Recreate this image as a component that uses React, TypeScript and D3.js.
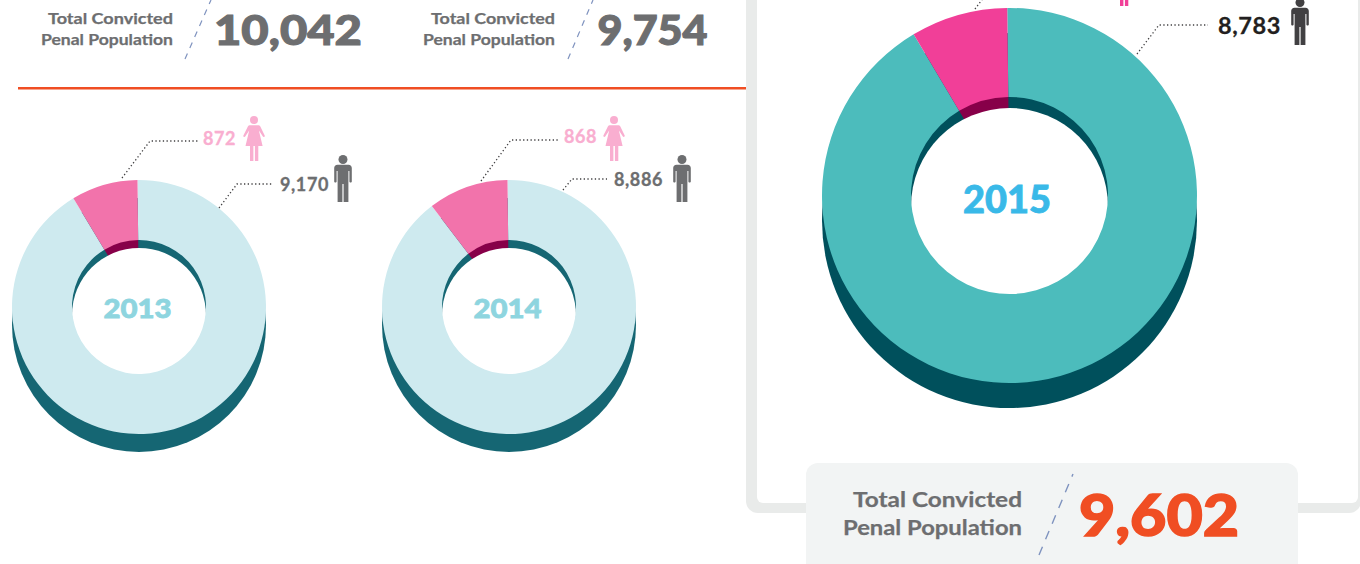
import React from 'react';
import * as d3 from 'd3';

const years = ['2013', '2014', '2015'];
const maleCounts = [9170, 8886, 8783];
const femaleCounts = [872, 868, 819];
// share of the ring drawn in pink
const drawnFemaleShare = [0.0845, 0.102, 0.0835];
const totalLabels = ['10,042', '9,754', '9,602'];
const maleLabels = ['9,170', '8,886', '8,783'];
const femaleLabels = ['872', '868'];

const FONT = 'Lato, "Open Sans", sans-serif';
const GREY = '#6d6e70';
const ORANGE = '#f04e23';

const donutLayout = [
  { cx: 139, cy: 307, R: 127, r: 67, drop: 18, crescent: 8, top: '#ceeaef', topPink: '#f273ab', dark: '#156673', darkPink: '#870049', year: '#8ed5df', yearY: 318, yearSize: 27, yearW: 68, yearX: -1.5 },
  { cx: 509, cy: 307, R: 127, r: 67, drop: 18, crescent: 8, top: '#ceeaef', topPink: '#f273ab', dark: '#156673', darkPink: '#870049', year: '#8ed5df', yearY: 318, yearSize: 27, yearW: 68, yearX: -1.5 },
  { cx: 1009.5, cy: 195.5, R: 187.5, r: 98.5, drop: 25, crescent: 11, top: '#4cbcbc', topPink: '#f13f98', dark: '#00505c', darkPink: '#870049', year: '#39b9e8', yearY: 213, yearSize: 37, yearW: 88, yearX: -2.5 },
];

const leaders = [
  'M122,178L150,141L198,141', 'M219,208L237,184L273,184',
  'M481,181L511,140L560,140', 'M563,190L572,179L607,179',
  'M975,9L984,-3', 'M1137,54L1159,25L1208,25',
];

function Female({ x, y, fill }: { x: number; y: number; fill: string }) {
  return (
    <g transform={`translate(${x},${y})`} fill={fill}>
      <circle cx={11} cy={4} r={4} />
      <path d="M6.5,9.2C6,9.2 5.4,9.6 5,10.3L0.4,19.6C0,20.6 1.4,21.6 2.2,20.6L6.2,14.4L2.5,30L7,30L7,45L10.4,45L10.4,30L11.9,30L11.9,45L15.3,45L15.3,30L19.6,30L15.9,14.4L19.9,20.6C20.7,21.6 22.1,20.6 21.7,19.6L17.2,10.3C16.8,9.6 16.2,9.2 15.6,9.2Z" />
    </g>
  );
}

function Male({ x, y, fill }: { x: number; y: number; fill: string }) {
  return (
    <g transform={`translate(${x},${y})`} fill={fill}>
      <circle cx={9} cy={4.5} r={4.5} />
      <path d="M3.5,9.8C1.5,9.8 0.2,11.2 0.2,13L0.2,26.5C0.2,27.8 2.6,27.8 2.6,26.5L2.6,16L3.6,16L3.6,47L8.4,47L8.4,29L9.6,29L9.6,47L14.4,47L14.4,16L15.4,16L15.4,26.5C15.4,27.8 17.8,27.8 17.8,26.5L17.8,13C17.8,11.2 16.5,9.8 14.5,9.8Z" />
    </g>
  );
}

function Donut({ i }: { i: number }) {
  const l = donutLayout[i];
  const shares = [1 - drawnFemaleShare[i], drawnFemaleShare[i]];
  const offset = -0.012;
  const slices = d3.pie<number>().sort(null).startAngle(offset).endAngle(2 * Math.PI + offset)(shares);
  const ring = d3.arc<d3.PieArcDatum<number>>().innerRadius(l.r).outerRadius(l.R);
  const holeBack = d3.arc<d3.PieArcDatum<number>>().innerRadius(0).outerRadius(l.r + 1);
  const disk = d3.arc<any>().innerRadius(0).outerRadius(l.R).startAngle(0).endAngle(2 * Math.PI);
  const white = d3.arc<any>().innerRadius(0).outerRadius(l.r).startAngle(0).endAngle(2 * Math.PI);
  return (
    <g transform={`translate(${l.cx},${l.cy})`}>
      <path d={disk({}) as string} fill={l.dark} transform={`translate(0,${l.drop})`} />
      {slices.map((s, k) => (
        <path key={k} d={holeBack(s) as string} fill={k ? l.darkPink : l.dark} />
      ))}
      <path d={white({}) as string} fill="#fff" transform={`translate(0,${l.crescent})`} />
      {slices.map((s, k) => (
        <path key={k} d={ring(s) as string} fill={k ? l.topPink : l.top} />
      ))}
      <text x={l.yearX} y={l.yearY - l.cy} textAnchor="middle" textLength={l.yearW} lengthAdjust="spacingAndGlyphs"
        fontFamily={FONT} fontWeight={900} fontSize={l.yearSize} fill={l.year} stroke={l.year} strokeWidth={0.8}>{years[i]}</text>
    </g>
  );
}

function Total({ rightX, base1, base2, size, w1, w2, numX, numW, numBase, numSize, numFill, value, heavy }: any) {
  return (
    <g fontFamily={FONT}>
      <g fontWeight={700} fontSize={size} fill={GREY} stroke={GREY} strokeWidth={0.25}>
        <text x={rightX - w1} y={base1} textLength={w1} lengthAdjust="spacingAndGlyphs">Total Convicted</text>
        <text x={rightX - w2} y={base2} textLength={w2} lengthAdjust="spacingAndGlyphs">Penal Population</text>
      </g>
      <text x={numX} y={numBase} textLength={numW} lengthAdjust="spacingAndGlyphs" fontWeight={900} fontSize={numSize}
        fill={numFill} stroke={numFill} strokeWidth={heavy}>{value}</text>
    </g>
  );
}

export default function App() {
  void maleCounts; void femaleCounts;
  const bold = { fontFamily: FONT, fontWeight: 700, letterSpacing: 0.6, strokeWidth: 0.3 } as const;
  return (
    <svg width={1360} height={564} style={{ position: 'fixed', left: 0, top: 0, background: '#fff' }}>
      <rect x={746} y={-40} width={615} height={553} rx={12} fill="#e9ebea" />
      <rect x={757} y={-40} width={601} height={543} rx={6} fill="#fff" />
      <line x1={18} x2={746} y1={88.3} y2={88.3} stroke={ORANGE} strokeWidth={2.6} />
      <rect x={806} y={463} width={492} height={130} rx={12} fill="#f2f4f4" />

      <path d="M185,59L211,0" stroke="#7f93bf" strokeWidth={1.2} strokeDasharray="6 6" fill="none" />
      <path d="M568,59L593,0" stroke="#7f93bf" strokeWidth={1.2} strokeDasharray="6 6" fill="none" />
      <path d="M1039,555L1073,474" stroke="#7f93bf" strokeWidth={1.4} strokeDasharray="9 8" fill="none" />

      <Total rightX={173} base1={24} base2={45} size={16} w1={125} w2={132} numX={214} numW={148} numBase={45} numSize={41} numFill={GREY} value={totalLabels[0]} heavy={1.1} />
      <Total rightX={555} base1={24} base2={45} size={16} w1={124} w2={132} numX={597.5} numW={110} numBase={45} numSize={41} numFill={GREY} value={totalLabels[1]} heavy={1.1} />
      <Total rightX={1022} base1={507} base2={535} size={21.5} w1={169} w2={179} numX={1079} numW={160} numBase={536} numSize={57} numFill={ORANGE} value={totalLabels[2]} heavy={1.5} />

      {years.map((_, i) => <Donut key={i} i={i} />)}

      {leaders.map((d, i) => (
        <path key={i} d={d} fill="none" stroke="#414042" strokeWidth={1.3} strokeDasharray="1.3 2.4" />
      ))}

      <text x={203} y={145} fontSize={18} fill="#f9aed0" stroke="#f9aed0" {...bold}>{femaleLabels[0]}</text>
      <text x={280} y={191} fontSize={18} fill={GREY} stroke={GREY} {...bold}>{maleLabels[0]}</text>
      <text x={564} y={143} fontSize={18} fill="#f9aed0" stroke="#f9aed0" {...bold}>{femaleLabels[1]}</text>
      <text x={614} y={186} fontSize={18} fill={GREY} stroke={GREY} {...bold}>{maleLabels[1]}</text>
      <text x={1218} y={34} fontSize={23.5} fill="#231f20" stroke="#231f20" {...bold}>{maleLabels[2]}</text>

      <Female x={243} y={116} fill="#f9aed0" />
      <Male x={334} y={155} fill={GREY} />
      <Female x={603} y={116} fill="#f9aed0" />
      <Male x={673} y={155} fill={GREY} />
      <Female x={1113} y={-39} fill="#f13f98" />
      <Male x={1291} y={-2} fill="#414042" />
    </svg>
  );
}
